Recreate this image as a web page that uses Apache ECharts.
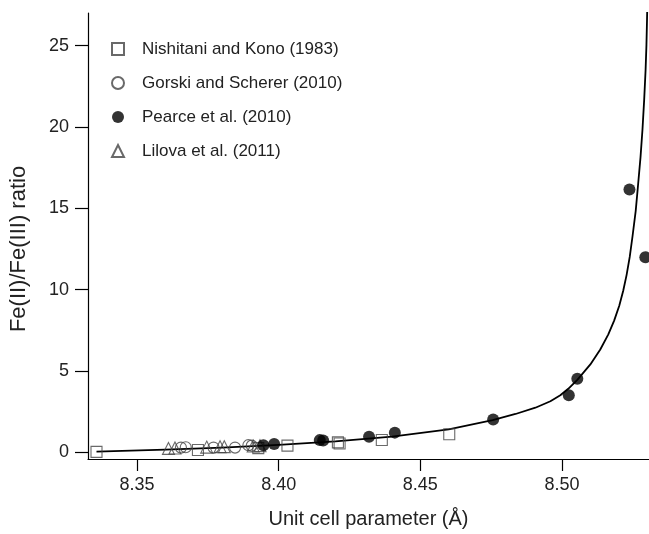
<!DOCTYPE html>
<html>
<head>
<meta charset="utf-8">
<script src="https://cdn.jsdelivr.net/npm/echarts@6/dist/echarts.min.js"></script>
<style>
html,body{margin:0;padding:0;background:#fff;}
#chart{width:649px;height:534px;}
</style>
</head>
<body>
<div id="chart"></div>
<script>
// Data: [unit cell parameter (Å), Fe(II)/Fe(III) ratio]
var nishitani = [[8.3357,0.04],[8.3715,0.15],[8.3928,0.27],[8.4031,0.42],[8.4209,0.62],[8.4215,0.55],[8.4364,0.77],[8.4602,1.12]];
var gorski = [[8.3655,0.30],[8.3672,0.32],[8.3770,0.30],[8.3846,0.30],[8.3893,0.45],[8.3905,0.42]];
var pearce = [[8.3946,0.45],[8.3984,0.52],[8.4145,0.76],[8.4157,0.73],[8.4319,0.96],[8.4410,1.22],[8.4757,2.02],[8.5024,3.51],[8.5054,4.53],[8.5238,16.15],[8.5294,12.0]];
var lilova = [[8.3611,0.25],[8.3634,0.28],[8.3746,0.33],[8.3793,0.36],[8.3808,0.36],[8.3910,0.40],[8.3934,0.42]];
// Fitted curve
var fitCurve = [[8.3357,0.05],[8.36,0.18],[8.38,0.30],[8.40,0.47],[8.42,0.68],[8.44,0.98],[8.46,1.42],[8.4755,1.985],[8.4836,2.365],[8.4906,2.750],[8.4959,3.147],[8.4994,3.514],[8.5022,3.912],[8.5054,4.462],[8.5100,5.410],[8.5135,6.328],[8.5163,7.245],[8.5184,8.102],[8.5202,9.019],[8.5216,9.936],[8.5228,10.915],[8.5239,12.016],[8.5249,13.300],[8.5260,14.829],[8.5268,16.358],[8.5277,18.132],[8.5284,19.845],[8.5290,21.680],[8.5295,23.514],[8.5298,25.043],[8.5300,26.572],[8.5301,27.49]];
var seriesNames = ['Nishitani and Kono (1983)','Gorski and Scherer (2010)','Pearce et al. (2010)','Lilova et al. (2011)'];
var xTicks = [8.35, 8.40, 8.45, 8.50];
var yTicks = [0, 5, 10, 15, 20, 25];
var xTitle = 'Unit cell parameter (Å)';
var yTitle = 'Fe(II)/Fe(III) ratio';

var FONT = '"Liberation Sans", Arial, sans-serif';
var chart = echarts.init(document.getElementById('chart'), null, {renderer:'canvas'});
var openStyle = {color:'rgba(255,255,255,0)', borderColor:'#444', borderWidth:1.1};
chart.setOption({
  animation:false,
  backgroundColor:'#fff',
  grid:{left:86, right:0, top:13, bottom:73, containLabel:false},
  legend:{
    orient:'vertical', left:106, top:34, itemWidth:12, itemHeight:12, itemGap:14,
    data:seriesNames,
    textStyle:{fontFamily:FONT, fontSize:17, color:'#222', lineHeight:20, padding:[0,0,0,13]}
  },
  xAxis:{
    type:'value', min:8.3327, max:8.5307,
    name:xTitle, nameLocation:'middle', nameGap:50,
    nameTextStyle:{fontFamily:FONT, fontSize:20, color:'#222'},
    axisLine:{show:true, onZero:false, lineStyle:{color:'#000', width:1.2}},
    axisTick:{show:true, inside:false, length:12, customValues:xTicks, lineStyle:{color:'#000', width:1.2}},
    axisLabel:{customValues:xTicks, margin:17, fontFamily:FONT, fontSize:18, color:'#222', formatter:function(v){return v.toFixed(2);}},
    splitLine:{show:false}
  },
  yAxis:{
    type:'value', min:-0.4, max:27,
    name:yTitle, nameLocation:'middle', nameGap:58,
    nameTextStyle:{fontFamily:FONT, fontSize:22, color:'#222', padding:[0,26,0,0]},
    axisLine:{show:true, onZero:false, lineStyle:{color:'#000', width:1.2}},
    axisTick:{show:true, inside:false, length:13, customValues:yTicks, lineStyle:{color:'#000', width:1.2}},
    axisLabel:{customValues:yTicks, margin:19, fontFamily:FONT, fontSize:18, color:'#222'},
    splitLine:{show:false}
  },
  series:[
    {name:'fit', type:'line', data:fitCurve, showSymbol:false, smooth:false, clip:true, lineStyle:{color:'#000', width:1.8, join:'round'}, z:1, silent:true},
    {name:seriesNames[0], type:'scatter', data:nishitani, symbol:'rect', symbolSize:11, itemStyle:openStyle, z:3},
    {name:seriesNames[1], type:'scatter', data:gorski, symbol:'circle', symbolSize:11, itemStyle:openStyle, z:3},
    {name:seriesNames[2], type:'scatter', data:pearce, symbol:'circle', symbolSize:12, itemStyle:{color:'#000'}, z:4},
    {name:seriesNames[3], type:'scatter', data:lilova, symbol:'triangle', symbolSize:12, itemStyle:openStyle, z:3}
  ]
});
</script>
</body>
</html>
